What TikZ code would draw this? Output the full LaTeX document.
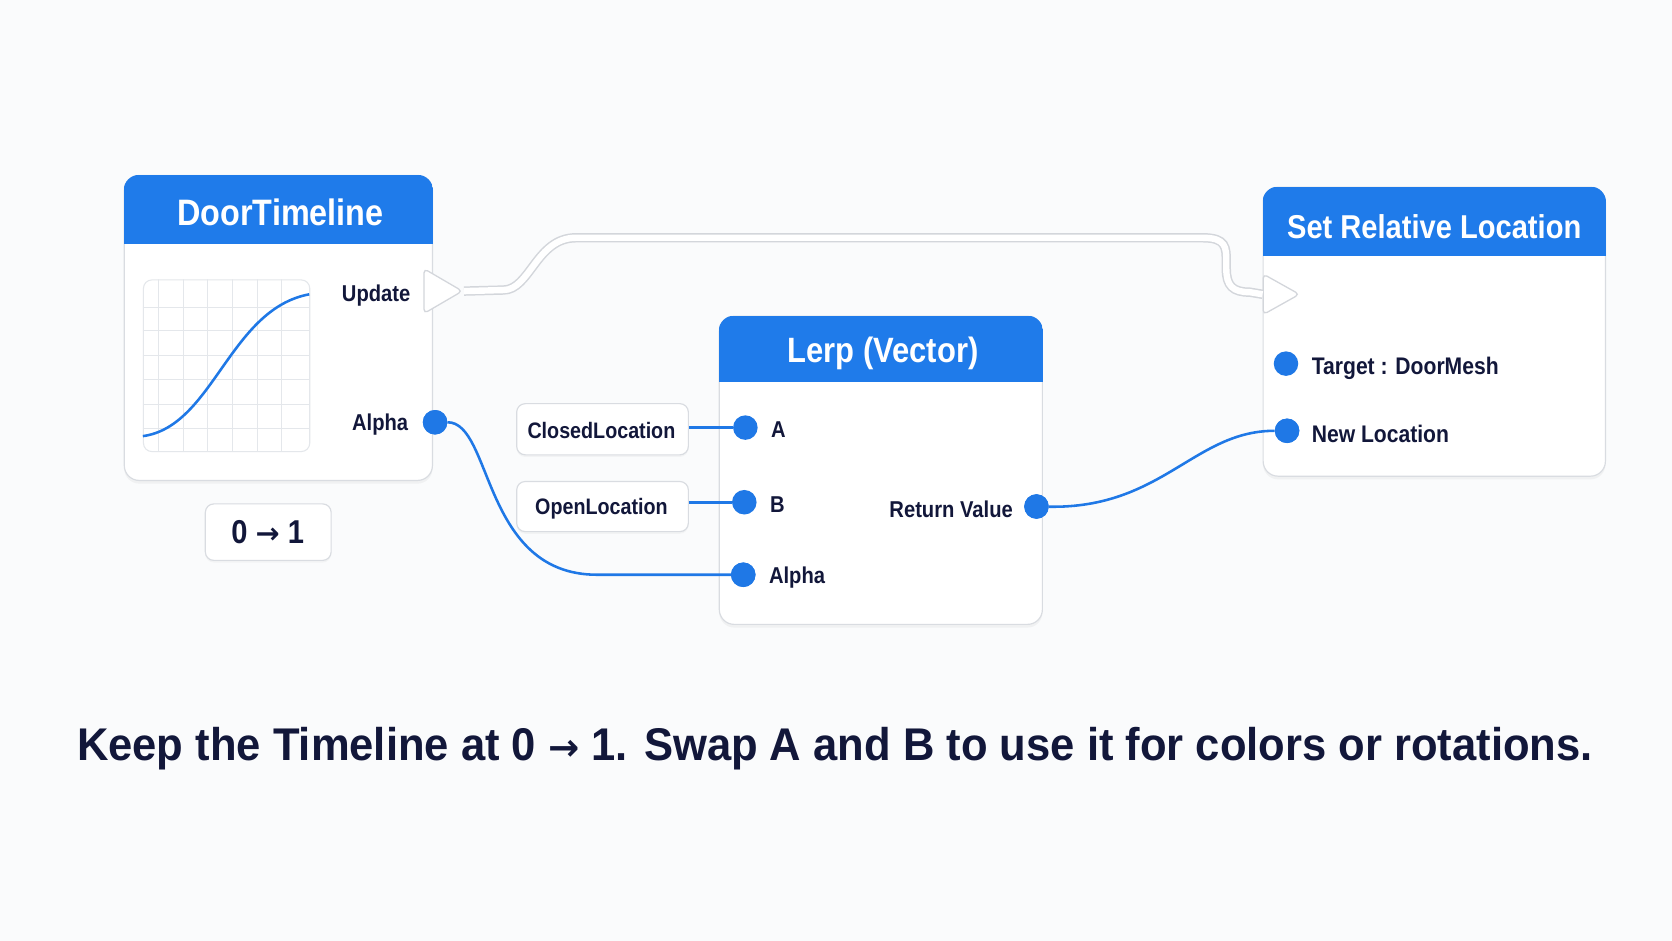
\documentclass[tikz,border=0pt]{standalone}
\usepackage{fontspec}
\setmainfont[FakeStretch=0.88]{Liberation Sans}
\newfontfamily\capfont[FakeStretch=0.95]{Liberation Sans}
\newfontfamily\arrowfont{DejaVu Sans}
\usetikzlibrary{shadows,calc,shapes.geometric}
\definecolor{hdr}{HTML}{1F7BEA}
\definecolor{pinblue}{HTML}{1F78E6}
\definecolor{ink}{HTML}{12173A}
\definecolor{bgc}{HTML}{FAFBFC}
\definecolor{cardline}{HTML}{D9DCE1}
\definecolor{gridc}{HTML}{E4E7EB}
\definecolor{execline}{HTML}{D3D6DB}
\tikzset{
  card/.style={draw=cardline, line width=1.1pt, fill=white, rounded corners=14pt,
    drop shadow={opacity=0.08, shadow xshift=0pt, shadow yshift=-3pt},
    inner sep=0pt, anchor=north west},
  smallbox/.style={draw=cardline, line width=1.1pt, fill=white, rounded corners=8pt,
    drop shadow={opacity=0.06, shadow xshift=0pt, shadow yshift=-2pt},
    inner sep=0pt, anchor=north west, text=ink, font=\fontsize{21}{21}\selectfont\bfseries},
  hdrtext/.style={text=white, font=\fontsize{33}{33}\selectfont\bfseries, inner sep=0pt},
  lbl/.style={text=ink, font=\fontsize{21.5}{21.5}\selectfont\bfseries, inner sep=0pt},
  pinnode/.style={circle, fill=pinblue, minimum size=23pt, inner sep=0pt},
  execpin/.style={isosceles triangle, isosceles triangle stretches, shape border rotate=0,
    minimum height=36pt, minimum width=42pt, inner sep=0pt, fill=white, draw=execline,
    line width=1.2pt, rounded corners=4pt, anchor=west},
  wire/.style={draw=pinblue, line width=2.4pt},
  execwire/.style={draw=execline, line width=1.4pt, double=white, double distance=6pt},
}
\begin{document}
\begin{tikzpicture}[x=1pt, y=-1pt]
\fill[bgc] (0,0) rectangle (1568,882);
\useasboundingbox (0,0) rectangle (1568,882);

% ---------- DoorTimeline card
\node[card, minimum width=289pt, minimum height=286pt] (dt) at (116,164) {};
\begin{scope}
  \clip[rounded corners=14.5pt] (dt.north west) rectangle (dt.south east);
  \fill[hdr] (dt.north west) rectangle ($(dt.north east)+(0,64.5)$);
\end{scope}
\node[hdrtext, font=\fontsize{34.5}{34.5}\selectfont\bfseries] (dttitle) at (263,199) {DoorTimeline};

% graph
\node[draw=gridc, line width=1pt, fill=white, rounded corners=8pt, minimum width=156pt,
  minimum height=161pt, inner sep=0pt, anchor=north west] (graph) at (134,262) {};
\begin{scope}
  \clip[rounded corners=8pt] (134,262) rectangle (290,423);
  \foreach \gx in {149,172,195,218,241,264}{\draw[gridc, line width=0.9pt] (\gx,262) -- (\gx,423);}
  \foreach \gy in {288,310,333,356,379,402}{\draw[gridc, line width=0.9pt] (134,\gy) -- (290,\gy);}
\end{scope}
\draw[pinblue, line width=2.4pt] (134,409) .. controls (200,400) and (215,290) .. (290,276);

\node[lbl, anchor=east] (dtupl) at (385,277) {Update};
\node[lbl, anchor=east] (dtal) at (383,398) {Alpha};
\node[execpin] (dtup) at (397,273) {};
\node[pinnode] (dtalpha) at (408,396) {};

% range box
\node[smallbox, minimum width=118pt, minimum height=53pt] (range) at (192,472) {};
\node[text=ink, font=\fontsize{31}{31}\selectfont\bfseries, inner sep=0pt] (rangetext) at (251,499) {0 {\arrowfont\fontsize{27}{27}\selectfont →} 1};

% ---------- Lerp card
\node[card, minimum width=303pt, minimum height=289pt] (lerp) at (674,296) {};
\begin{scope}
  \clip[rounded corners=14.5pt] (lerp.north west) rectangle (lerp.south east);
  \fill[hdr] (lerp.north west) rectangle ($(lerp.north east)+(0,62.5)$);
\end{scope}
\node[hdrtext] (lerptitle) at (828,331) {Lerp (Vector)};

\node[pinnode] (la) at (699,401) {};
\node[pinnode] (lb) at (698,471) {};
\node[pinnode] (lal) at (697,539) {};
\node[pinnode] (lret) at (972,475) {};
\node[lbl, anchor=west] (lat) at (723,403) {A};
\node[lbl, anchor=west] (lbt) at (722,473) {B};
\node[lbl, anchor=west] (lalt) at (721,542) {Alpha};
\node[lbl, anchor=east] (lrett) at (950,478) {Return Value};

% input boxes
\node[smallbox, minimum width=161pt, minimum height=48pt] (closed) at (484,378) {};
\node[lbl, font=\fontsize{21}{21}\selectfont\bfseries] (closedt) at (564,404) {ClosedLocation};
\node[smallbox, minimum width=161pt, minimum height=47pt] (open) at (484,451) {};
\node[lbl, font=\fontsize{21}{21}\selectfont\bfseries] (opent) at (564,477) {OpenLocation};

% ---------- Set Relative Location card
\node[card, minimum width=321pt, minimum height=271pt] (srl) at (1184,175) {};
\begin{scope}
  \clip[rounded corners=14.5pt] (srl.north west) rectangle (srl.south east);
  \fill[hdr] (srl.north west) rectangle ($(srl.north east)+(0,65.5)$);
\end{scope}
\node[hdrtext, font=\fontsize{31}{31}\selectfont\bfseries] (srltitle) at (1345,213) {Set Relative Location};
\node[execpin, minimum height=34pt, minimum width=38pt] (srlin) at (1184,276) {};
\node[pinnode] (stg) at (1206,341) {};
\node[pinnode] (snl) at (1207,404) {};
\node[lbl, anchor=west, font=\fontsize{22.5}{22.5}\selectfont\bfseries] (stgt) at (1230,345) {Target : DoorMesh};
\node[lbl, anchor=west, font=\fontsize{22.5}{22.5}\selectfont\bfseries] (snlt) at (1230,407) {New Location};

% ---------- wires
\draw[execwire] (dtup.apex) -- (472,272) .. controls (497,272) and (503,223) .. (540,223)
  -- (1128,223) .. controls (1150,223) and (1150,232) .. (1150,246)
  -- (1150,252) .. controls (1150,268) and (1156,274) .. (1172,274) -- (srlin.west);
\draw[wire] (closed.east |- la) -- (la);
\draw[wire] (open.east |- lb) -- (lb);
\draw[wire] (dtalpha) .. controls (462,396) and (452,539) .. (560,539) -- (lal);
\draw[wire] (lret) .. controls (1090,477) and (1120,404) .. (snl);
\node[pinnode] at (dtalpha) {};
\node[pinnode] at (lret) {};
\node[pinnode] at (snl) {};
\node[pinnode] at (lal) {};

% ---------- caption
\node[text=ink, font=\capfont\fontsize{43}{43}\selectfont\bfseries, inner sep=0pt] (caption) at (783,702)
  {Keep the Timeline at 0 {\arrowfont\fontsize{35}{35}\selectfont →} 1. Swap A and B to use it for colors or rotations.};
\end{tikzpicture}
\end{document}
